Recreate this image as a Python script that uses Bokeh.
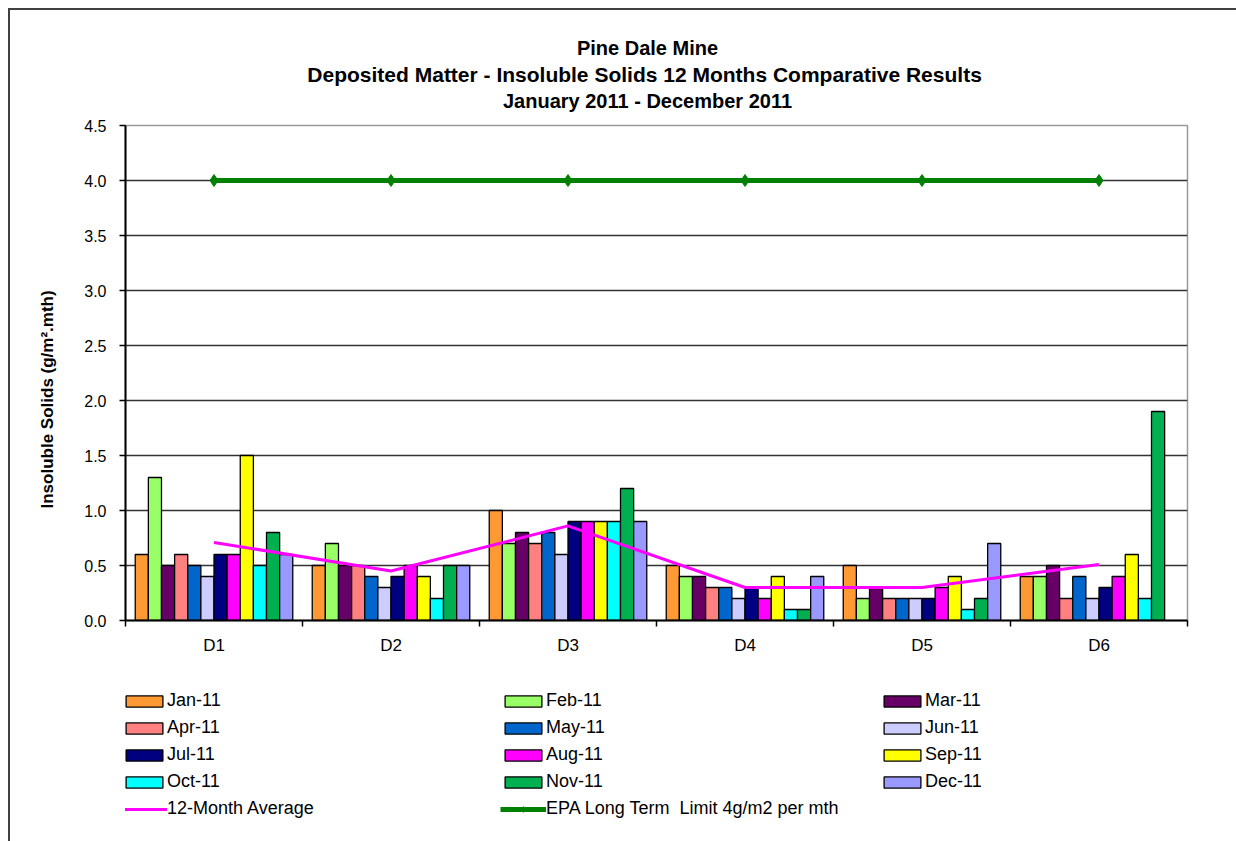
import numpy as np
from bokeh.plotting import figure
from bokeh.layouts import column
from bokeh.models import (Range1d, FixedTicker, PrintfTickFormatter, Legend, LegendItem, Title,
                          Label, ColumnDataSource)
from bokeh.embed import file_html
from bokeh.resources import INLINE

# ---------------- data ----------------
sites = ["D1", "D2", "D3", "D4", "D5", "D6"]
months = ["Jan-11", "Feb-11", "Mar-11", "Apr-11", "May-11", "Jun-11",
          "Jul-11", "Aug-11", "Sep-11", "Oct-11", "Nov-11", "Dec-11"]
jan = [0.6, 0.5, 1.0, 0.5, 0.5, 0.4]
feb = [1.3, 0.7, 0.7, 0.4, 0.2, 0.4]
mar = [0.5, 0.5, 0.8, 0.4, 0.3, 0.5]
apr = [0.6, 0.5, 0.7, 0.3, 0.2, 0.2]
may = [0.5, 0.4, 0.8, 0.3, 0.2, 0.4]
jun = [0.4, 0.3, 0.6, 0.2, 0.2, 0.2]
jul = [0.6, 0.4, 0.9, 0.3, 0.2, 0.3]
aug = [0.6, 0.5, 0.9, 0.2, 0.3, 0.4]
sep = [1.5, 0.4, 0.9, 0.4, 0.4, 0.6]
oct_ = [0.5, 0.2, 0.9, 0.1, 0.1, 0.2]
nov = [0.8, 0.5, 1.2, 0.1, 0.2, 1.9]
dec = [0.6, 0.5, 0.9, 0.4, 0.7, None]
avg_12m = [0.71, 0.45, 0.86, 0.30, 0.30, 0.51]
epa_limit = [4.0, 4.0, 4.0, 4.0, 4.0, 4.0]
y_ticks = [0.0, 0.5, 1.0, 1.5, 2.0, 2.5, 3.0, 3.5, 4.0, 4.5]
title_lines = ["Pine Dale Mine",
               "Deposited Matter - Insoluble Solids 12 Months Comparative  Results",
               "January 2011 - December 2011"]
avg_label = "12-Month Average"
epa_label = "EPA Long Term  Limit 4g/m2 per mth"

series = [jan, feb, mar, apr, may, jun, jul, aug, sep, oct_, nov, dec]
colors = ["#FF9933", "#99FF66", "#660066", "#FF8080", "#0066CC", "#CCCCFF",
          "#000080", "#FF00FF", "#FFFF00", "#00FFFF", "#00B050", "#9999FF"]
AVG_COLOR = "#FF00FF"
EPA_COLOR = "#008000"
FONT = "Liberation Sans"
W = 1226

n_sites = len(sites)
centres = [i + 0.5 for i in range(n_sites)]          # category centres on the x scale
edges = [float(i) for i in range(n_sites + 1)]        # category boundaries


def blank(height):
    f = figure(width=W, height=height, x_range=Range1d(0, 1), y_range=Range1d(0, 1),
               x_axis_location=None, y_axis_location=None, toolbar_location=None,
               output_backend="svg", min_border=0, outline_line_color=None)
    f.grid.visible = False
    return f


# ---------------- title strip (frame is aligned with the chart frame) ----------------
top = blank(108)
for txt, y, fs in zip(title_lines, [71, 44, 18], ["20px", "21px", "20px"]):
    top.add_layout(Label(x=522, y=y, x_units="screen", y_units="screen", text=txt,
                         text_align="center", text_baseline="middle",
                         text_font=FONT, text_font_size=fs, text_font_style="bold",
                         text_color="black"))

# ---------------- main chart ----------------
p = figure(x_range=Range1d(0, n_sites), y_range=Range1d(0, 4.5),
           width=W, height=542, output_backend="svg", toolbar_location=None,
           min_border_left=113, min_border_right=49, min_border_top=7, min_border_bottom=40)
p.outline_line_color = "#9a9a9a"
p.outline_line_width = 1.5
p.xgrid.visible = False

p.yaxis.ticker = FixedTicker(ticks=y_ticks)
p.yaxis.formatter = PrintfTickFormatter(format="%.1f")
p.yaxis.major_tick_in = 0
p.yaxis.major_tick_out = 6
p.yaxis.minor_tick_line_color = None
p.yaxis.axis_line_color = "black"
p.yaxis.axis_line_width = 2
p.yaxis.major_tick_line_width = 1.5
p.yaxis.major_label_text_font = FONT
p.yaxis.major_label_text_font_size = "16px"
p.yaxis.major_label_text_color = "black"
p.yaxis.major_label_standoff = 13

p.ygrid.ticker = FixedTicker(ticks=y_ticks[1:-1])
p.ygrid.grid_line_color = "#333333"
p.ygrid.grid_line_width = 1.5

p.xaxis.ticker = FixedTicker(ticks=centres, minor_ticks=edges)
p.xaxis.major_label_overrides = {c: s for c, s in zip(centres, sites)}
p.xaxis.major_tick_line_color = None
p.xaxis.minor_tick_in = 0
p.xaxis.minor_tick_out = 6
p.xaxis.minor_tick_line_color = "black"
p.xaxis.minor_tick_line_width = 1.5
p.xaxis.axis_line_color = "black"
p.xaxis.axis_line_width = 2
p.xaxis.major_label_standoff = 9
p.xaxis.major_label_text_font = FONT
p.xaxis.major_label_text_font_size = "17px"
p.xaxis.major_label_text_color = "black"

group = 0.89
bw = group / len(months)
for i, (vals, col) in enumerate(zip(series, colors)):
    off = -group / 2 + (i + 0.5) * bw
    src = ColumnDataSource(dict(x=np.array(centres) + off,
                                top=np.array([np.nan if v is None else v for v in vals], dtype=float)))
    p.vbar(x="x", top="top", width=bw, source=src,
           fill_color=col, line_color="black", line_width=1.3)

p.line(x=centres, y=avg_12m, line_color=AVG_COLOR, line_width=3)
p.line(x=centres, y=epa_limit, line_color=EPA_COLOR, line_width=5)
p.scatter(x=centres, y=epa_limit, marker="diamond", size=12,
          fill_color=EPA_COLOR, line_color=EPA_COLOR)

p.add_layout(Title(text="Insoluble Solids (g/m\u00b2.mth)", align="left", offset=112,
                   standoff=50, text_font=FONT, text_font_size="17px",
                   text_font_style="bold", text_color="black"), "left")

# ---------------- legend strip ----------------
# Legend swatches need renderers in the same figure: proxies with no drawable
# (NaN) data, styled exactly like the chart's glyphs.
leg_fig = blank(181)
NA = np.array([np.nan])
proxies = []
for col in colors:
    proxies.append(leg_fig.vbar(x=NA, top=NA, width=0.1, fill_color=col,
                                line_color="black", line_width=1.3))
r_avg = leg_fig.line(x=NA, y=NA, line_color=AVG_COLOR, line_width=3)
r_epa = leg_fig.line(x=NA, y=NA, line_color=EPA_COLOR, line_width=5)
r_epa_m = leg_fig.scatter(x=NA, y=NA, marker="diamond", size=12,
                          fill_color=EPA_COLOR, line_color=EPA_COLOR)

cols = [[0, 3, 6, 9], [1, 4, 7, 10], [2, 5, 8, 11]]
extra = [(avg_label, [r_avg]), (epa_label, [r_epa, r_epa_m]), None]
xs = [-4, 375, 754]
ROW_H, GAP = 21, 6
for c, idxs in enumerate(cols):
    items = [LegendItem(label=months[k], renderers=[proxies[k]]) for k in idxs]
    if extra[c] is not None:
        items.append(LegendItem(label=extra[c][0], renderers=extra[c][1]))
    n = len(items)
    h = n * ROW_H + (n - 1) * GAP
    leg = Legend(items=items, location=(xs[c], 181 - (30 + h)), orientation="vertical",
                 glyph_width=46, glyph_height=14, label_height=ROW_H, spacing=GAP,
                 padding=0, margin=0, label_standoff=0,
                 label_text_font=FONT, label_text_font_size="18px", label_text_color="black",
                 background_fill_alpha=0, border_line_color=None)
    leg_fig.add_layout(leg, "center")

layout = column(top, p, leg_fig, spacing=0,
                styles={"margin-left": "8px", "margin-top": "8px",
                        "border-top": "2px solid #404040", "border-left": "2px solid #404040"})

open("out.html", "w").write(file_html(layout, INLINE))
